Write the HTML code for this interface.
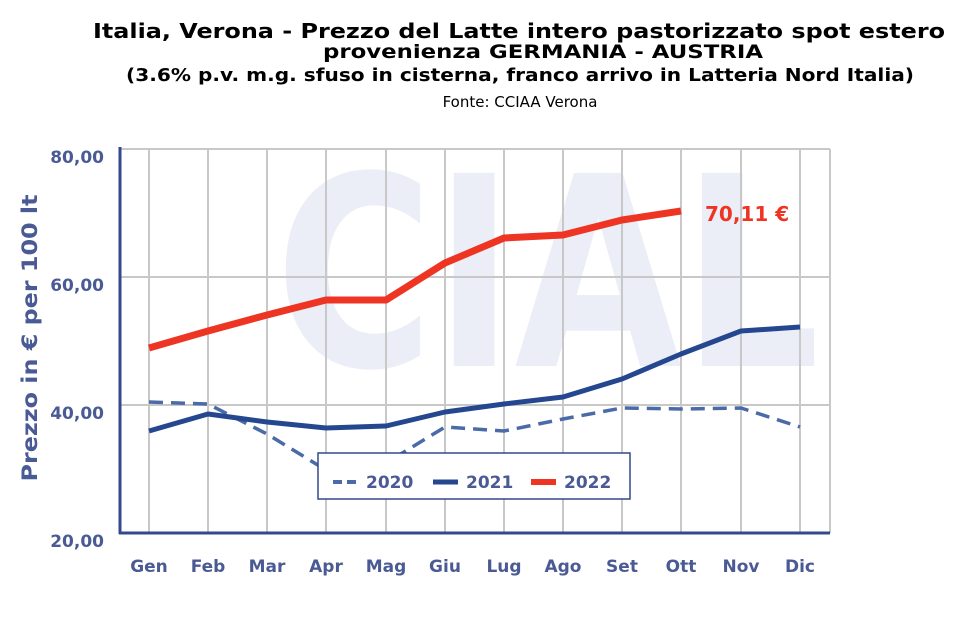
<!DOCTYPE html>
<html><head><meta charset="utf-8"><style>
body{margin:0;background:#fff;width:968px;height:626px;overflow:hidden;font-family:"DejaVu Sans",sans-serif}
</style></head><body>
<svg width="968" height="626" xmlns="http://www.w3.org/2000/svg" font-family="DejaVu Sans, Verdana, sans-serif">
<text x="93" y="38" font-size="20" font-weight="bold" fill="#000" textLength="852" lengthAdjust="spacingAndGlyphs">Italia, Verona - Prezzo del Latte intero pastorizzato spot estero</text>
<text x="323" y="58" font-size="19" font-weight="bold" fill="#000" textLength="440" lengthAdjust="spacingAndGlyphs">provenienza GERMANIA - AUSTRIA</text>
<text x="126" y="81" font-size="18" font-weight="bold" fill="#000" textLength="788" lengthAdjust="spacingAndGlyphs">(3.6% p.v. m.g. sfuso in cisterna, franco arrivo in Latteria Nord Italia)</text>
<text x="520" y="107" text-anchor="middle" font-size="15" fill="#000">Fonte: CCIAA Verona</text>
<text x="275" y="366" font-size="265" font-weight="bold" fill="#eceef7" textLength="545" lengthAdjust="spacingAndGlyphs">CIAL</text>
<g stroke="#c8c8c8" stroke-width="2">
<line x1="120" y1="149" x2="830" y2="149"/><line x1="120" y1="277" x2="830" y2="277"/><line x1="120" y1="405" x2="830" y2="405"/>
<line x1="149" y1="149" x2="149" y2="533"/><line x1="208" y1="149" x2="208" y2="533"/><line x1="267" y1="149" x2="267" y2="533"/><line x1="326" y1="149" x2="326" y2="533"/><line x1="386" y1="149" x2="386" y2="533"/><line x1="445" y1="149" x2="445" y2="533"/><line x1="504" y1="149" x2="504" y2="533"/><line x1="563" y1="149" x2="563" y2="533"/><line x1="622" y1="149" x2="622" y2="533"/><line x1="681" y1="149" x2="681" y2="533"/><line x1="741" y1="149" x2="741" y2="533"/><line x1="800" y1="149" x2="800" y2="533"/><line x1="830" y1="149" x2="830" y2="533"/>
</g>
<line x1="120" y1="147" x2="120" y2="534" stroke="#34488c" stroke-width="3"/>
<line x1="119" y1="533" x2="830" y2="533" stroke="#34488c" stroke-width="3"/>
<g font-size="17" font-weight="bold" fill="#4a5a94" text-anchor="end">
<text x="104" y="163">80,00</text><text x="104" y="291">60,00</text><text x="104" y="419">40,00</text><text x="104" y="547">20,00</text>
</g>
<g font-size="17" font-weight="bold" fill="#4a5a94" text-anchor="middle">
<text x="149" y="572">Gen</text><text x="208" y="572">Feb</text><text x="267" y="572">Mar</text><text x="326" y="572">Apr</text><text x="386" y="572">Mag</text><text x="445" y="572">Giu</text><text x="504" y="572">Lug</text><text x="563" y="572">Ago</text><text x="622" y="572">Set</text><text x="681" y="572">Ott</text><text x="741" y="572">Nov</text><text x="800" y="572">Dic</text>
</g>
<text transform="translate(37,338) rotate(-90)" text-anchor="middle" font-size="21" font-weight="bold" fill="#4a5a94" textLength="287" lengthAdjust="spacingAndGlyphs">Prezzo in € per 100 lt</text>
<polyline fill="none" stroke="#4a6aa8" stroke-width="3.5" stroke-dasharray="14,8" points="149,402 208,404 267,434 326,470 386,463 445,427 504,431 563,419 622,408 681,409 741,408 800,427"/>
<polyline fill="none" stroke="#24478f" stroke-width="5" stroke-linejoin="round" points="149,431 208,414 267,422 326,428 386,426 445,412 504,404 563,397 622,379 681,354 741,331 800,327"/>
<polyline fill="none" stroke="#ee3524" stroke-width="7" stroke-linejoin="round" points="149,348 208,331 267,315 326,300 386,300 445,263 504,238 563,235 622,220 681,211"/>
<text x="705" y="221" font-size="20" font-weight="bold" fill="#ee3524">70,11 €</text>
<rect x="318" y="453" width="312" height="46" fill="#fff" stroke="#34488c" stroke-width="1.5"/>
<line x1="333" y1="482" x2="358" y2="482" stroke="#4a6aa8" stroke-width="4" stroke-dasharray="9,5"/>
<text x="366" y="488" font-size="17" font-weight="bold" fill="#4a5a94">2020</text>
<line x1="433" y1="482" x2="458" y2="482" stroke="#24478f" stroke-width="5"/>
<text x="466" y="488" font-size="17" font-weight="bold" fill="#4a5a94">2021</text>
<line x1="531" y1="482" x2="556" y2="482" stroke="#ee3524" stroke-width="6"/>
<text x="564" y="488" font-size="17" font-weight="bold" fill="#4a5a94">2022</text>
</svg>
</body></html>
